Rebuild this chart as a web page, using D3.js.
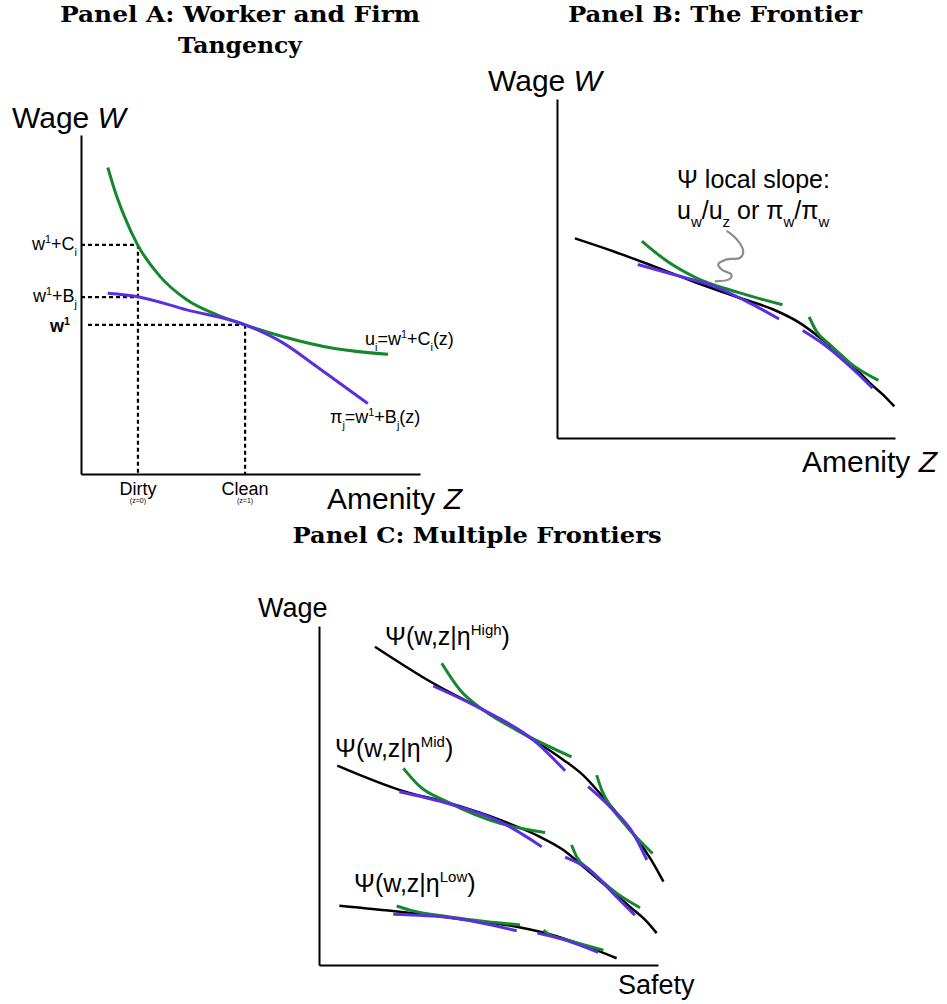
<!DOCTYPE html>
<html>
<head>
<meta charset="utf-8">
<script src="https://cdn.jsdelivr.net/npm/d3@7"></script>
<style>
  body { margin: 0; background: #fff; }
  svg { display: block; }
  text { font-family: "Liberation Sans", Arial, sans-serif; fill: #000; }
  .title { font-family: "DejaVu Serif", serif; font-weight: bold; }
</style>
</head>
<body>
<svg id="chart" width="947" height="1004"></svg>
<script>
// ---- data (each panel uses a 0-100 unit box) ----

// Panel A: worker indifference curve and firm iso-profit curve
var aWorker = [[7.9, 90.4], [10.0, 83.5], [12.8, 76.0], [16.7, 67.6], [23.3, 58.3],
  [31.2, 51.4], [40.0, 47.0], [48.4, 44.0], [59.7, 40.5], [74.4, 37.1], [90.6, 35.3]];
var aFirm = [[7.9, 53.3], [16.7, 52.3], [31.2, 48.4], [48.4, 44.0], [59.7, 38.6],
  [69.5, 31.7], [84.6, 20.8]];
var aLevels = [67.6, 52.2, 44.0];          // w1+Ci, w1+Bj, w1
var aAmenity = [16.8, 48.4];               // dirty, clean
var aAmenityNames = ["Dirty", "Clean"];
var aAmenityNotes = ["(z=0)", "(z=1)"];

// Panel B: the frontier with two tangencies
var bFrontier = [[5.3, 58.9], [16.6, 55.1], [28.5, 50.7], [41.3, 45.8], [54.1, 41.3],
  [64.0, 37.9], [71.9, 33.9], [79.8, 28.0], [86.7, 22.1], [92.6, 16.2], [96.5, 12.7], [99.8, 9.3]];
var bWorker = [
  [[25.1, 58.1], [32.5, 52.2], [41.3, 47.2], [54.1, 42.8], [66.7, 39.3]],
  [[74.6, 35.7], [76.8, 31.4], [80.8, 27.5], [86.7, 22.1], [95.1, 17.0]]
];
var bFirm = [
  [[23.9, 51.2], [36.4, 47.7], [46.2, 44.8], [56.1, 40.3], [65.7, 35.1]],
  [[72.7, 31.7], [79.8, 27.0], [86.7, 21.1], [93.4, 14.7]]
];
var bPointer = [[50.2, 61.1], [53.2, 58.6], [55.1, 55.1], [54.1, 53.1], [50.2, 52.7],
  [47.7, 51.2], [48.7, 49.7], [51.6, 48.2], [51.1, 46.9], [46.7, 46.2]];

// Panel C: three frontiers (High, Mid, Low)
var cNames = ["High", "Mid", "Low"];
var cFrontiers = [
  [[16.5, 93.9], [33.7, 83.1], [48.5, 75.2], [63.2, 66.4], [72.1, 60.5], [77.9, 56.0],
   [82.9, 50.6], [88.8, 43.7], [94.7, 35.9], [98.6, 30.0], [101.6, 24.6]],
  [[5.4, 58.8], [23.9, 51.6], [38.6, 47.7], [53.4, 42.8], [65.2, 37.8], [72.1, 33.9],
   [78.0, 29.0], [84.9, 23.1], [91.7, 17.2], [96.7, 12.8], [99.6, 9.4]],
  [[6.0, 17.5], [23.9, 15.7], [43.6, 13.3], [58.3, 11.3], [65.2, 9.8], [75.0, 6.9], [87.8, 2.0]]
];
var cWorker = [
  [[36.2, 89.0], [41.6, 81.1], [48.5, 75.2], [58.3, 69.3], [74.5, 61.4]],
  [[81.9, 56.0], [83.4, 51.6], [85.8, 47.2], [90.8, 40.8], [98.4, 32.9]],
  [[24.9, 58.0], [29.8, 52.6], [37.7, 48.2], [53.4, 41.8], [66.7, 39.1]],
  [[74.5, 35.4], [76.0, 31.9], [79.9, 28.0], [87.8, 21.2], [94.7, 16.9]],
  [[22.9, 17.4], [26.8, 16.2], [38.6, 14.2], [59.3, 11.8]],
  [[66.2, 10.3], [67.7, 9.1], [73.1, 7.4], [83.9, 4.4]]
];
var cFirm = [
  [[33.7, 82.3], [48.5, 75.2], [63.2, 66.4], [72.6, 57.3]],
  [[79.4, 52.6], [85.8, 46.7], [92.7, 38.8], [96.7, 31.0]],
  [[23.7, 51.1], [38.6, 47.5], [53.4, 42.3], [65.7, 34.9]],
  [[72.6, 31.8], [79.9, 28.0], [87.8, 20.1], [93.2, 14.7]],
  [[21.9, 15.0], [38.6, 14.0], [58.3, 10.1]],
  [[64.4, 9.4], [73.1, 7.2], [82.4, 3.7]]
];

// ---- drawing ----
var green = "#15872c", blue = "#5a2fe2", grey = "#8c8c8c";
var svg = d3.select("#chart");

// text with super/subscripts: parts are [text, "sup"|"sub"|"it"]
function rich(g, x, y, parts, size, anchor, weight) {
  var t = g.append("text")
    .attr("x", x).attr("y", y)
    .attr("font-size", size)
    .attr("text-anchor", anchor || "start")
    .attr("font-weight", weight || null);
  var cur = 0;
  parts.forEach(function(p) {
    var mode = p[1];
    var off = mode == "sup" ? -0.4 * size : mode == "sub" ? 0.32 * size : 0;
    t.append("tspan")
      .attr("dy", off - cur)
      .attr("font-size", (mode == "sup" || mode == "sub") ? size * 0.6 : size)
      .attr("font-style", mode == "it" ? "italic" : null)
      .text(p[0]);
    cur = off;
  });
  return t;
}

function title(txt, cx, y, w) {
  svg.append("text").attr("class", "title")
    .attr("x", cx).attr("y", y)
    .attr("text-anchor", "middle")
    .attr("font-size", 22)
    .attr("textLength", w)
    .attr("lengthAdjust", "spacingAndGlyphs")
    .text(txt);
}

function panel(x0, x1, y0, y1) {
  var x = d3.scaleLinear().domain([0, 100]).range([x0, x1]);
  var y = d3.scaleLinear().domain([0, 100]).range([y0, y1]);
  var g = svg.append("g");
  g.append("g").attr("transform", "translate(0," + y0 + ")")
    .call(d3.axisBottom(x).tickValues([]).tickSizeOuter(0));
  g.append("g").attr("transform", "translate(" + x0 + ",0)")
    .call(d3.axisLeft(y).tickValues([]).tickSizeOuter(0));
  g.selectAll(".domain").attr("stroke", "#000").attr("stroke-width", 2);
  var line = d3.line()
    .x(function(d) { return x(d[0]); })
    .y(function(d) { return y(d[1]); })
    .curve(d3.curveMonotoneX);
  return { g: g, x: x, y: y, line: line };
}

function curve(p, pts, color, width) {
  p.g.append("path").datum(pts)
    .attr("d", p.line)
    .attr("fill", "none")
    .attr("stroke", color)
    .attr("stroke-width", width)
    .attr("stroke-linecap", "butt");
}

// Panel A
title("Panel A: Worker and Firm", 240, 22, 360);
title("Tangency", 240, 53, 124);
var A = panel(81, 420, 474, 135);

var dash = A.g.append("g")
  .attr("stroke", "#000").attr("stroke-width", 2.2)
  .attr("stroke-dasharray", "4,3").attr("fill", "none");
// horizontal guides
dash.append("line").attr("x1", A.x(0)).attr("x2", A.x(aAmenity[0]))
  .attr("y1", A.y(aLevels[0])).attr("y2", A.y(aLevels[0]));
dash.append("line").attr("x1", A.x(0)).attr("x2", A.x(aAmenity[0]))
  .attr("y1", A.y(aLevels[1])).attr("y2", A.y(aLevels[1]));
dash.append("line").attr("x1", A.x(0) + 7).attr("x2", A.x(aAmenity[1]))
  .attr("y1", A.y(aLevels[2])).attr("y2", A.y(aLevels[2]));
// vertical guides
dash.append("line").attr("x1", A.x(aAmenity[0])).attr("x2", A.x(aAmenity[0]))
  .attr("y1", A.y(aLevels[0])).attr("y2", A.y(0));
dash.append("line").attr("x1", A.x(aAmenity[1])).attr("x2", A.x(aAmenity[1]))
  .attr("y1", A.y(aLevels[2])).attr("y2", A.y(0));

curve(A, aWorker, green, 3);
curve(A, aFirm, blue, 3);

rich(A.g, 77, A.y(aLevels[0]) + 5, [["w"], ["1", "sup"], ["+C"], ["i", "sub"]], 18, "end");
rich(A.g, 77, A.y(aLevels[1]) + 5, [["w"], ["1", "sup"], ["+B"], ["j", "sub"]], 18, "end");
rich(A.g, 70, A.y(aLevels[2]) + 7, [["w"], ["1", "sup"]], 18, "end", "bold");

rich(A.g, 365, 345, [["u"], ["i", "sub"], ["=w"], ["1", "sup"], ["+C"], ["i", "sub"], ["(z)"]], 18);
rich(A.g, 330, 423, [["π"], ["j", "sub"], ["=w"], ["1", "sup"], ["+B"], ["j", "sub"], ["(z)"]], 18);

aAmenity.forEach(function(v, i) {
  A.g.append("text").attr("x", A.x(v)).attr("y", 495)
    .attr("text-anchor", "middle").attr("font-size", 18).text(aAmenityNames[i]);
  A.g.append("text").attr("x", A.x(v)).attr("y", 503)
    .attr("text-anchor", "middle").attr("font-size", 7).text(aAmenityNotes[i]);
});

rich(A.g, 12, 128, [["Wage "], ["W", "it"]], 30);
rich(A.g, 327, 509, [["Amenity "], ["Z", "it"]], 30);

// Panel B
title("Panel B: The Frontier", 715, 22, 294);
var B = panel(557, 895, 438, 99);
curve(B, bFrontier, "#000", 2.5);
bWorker.forEach(function(c) { curve(B, c, green, 3); });
bFirm.forEach(function(c) { curve(B, c, blue, 3); });
// the pointer loops back on itself, so it is drawn through its points in order
B.g.append("path").datum(bPointer)
  .attr("d", d3.line()
    .x(function(d) { return B.x(d[0]); })
    .y(function(d) { return B.y(d[1]); })
    .curve(d3.curveCatmullRom.alpha(0.5)))
  .attr("fill", "none").attr("stroke", grey).attr("stroke-width", 2.2);

rich(B.g, 677, 188, [["Ψ local slope:"]], 25);
rich(B.g, 677, 219, [["u"], ["w", "sub"], ["/u"], ["z", "sub"], [" or π"], ["w", "sub"], ["/π"], ["w", "sub"]], 25);

rich(B.g, 488, 91, [["Wage "], ["W", "it"]], 30);
rich(B.g, 802, 472, [["Amenity "], ["Z", "it"]], 30);

// Panel C
title("Panel C: Multiple Frontiers", 477, 543, 369);
var C = panel(319, 658, 965, 626);
cFrontiers.forEach(function(c) { curve(C, c, "#000", 2.5); });
cWorker.forEach(function(c) { curve(C, c, green, 3); });
cFirm.forEach(function(c) { curve(C, c, blue, 3); });

var cLabelPos = [[385, 645], [335, 757], [354, 892]];
cNames.forEach(function(n, i) {
  rich(C.g, cLabelPos[i][0], cLabelPos[i][1], [["Ψ(w,z|η"], [n, "sup"], [")"]], 25);
});

C.g.append("text").attr("x", 258).attr("y", 617).attr("font-size", 27).text("Wage");
C.g.append("text").attr("x", 618).attr("y", 994).attr("font-size", 27).text("Safety");
</script>
</body>
</html>
